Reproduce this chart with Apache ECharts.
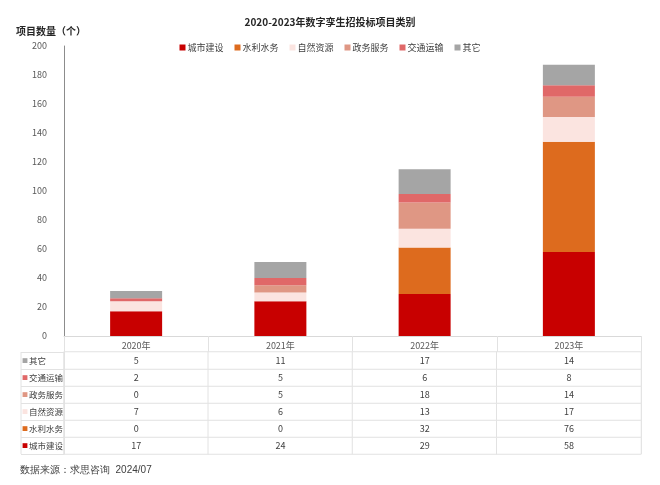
<!DOCTYPE html>
<html><head><meta charset="utf-8">
<script src="https://cdn.jsdelivr.net/npm/echarts@6/dist/echarts.min.js"></script>
<style>html,body{margin:0;padding:0;background:#fff}#c{width:660px;height:485px}</style>
</head><body><div id="c"></div>
<script>
var years = ['2020年','2021年','2022年','2023年'];
var seriesNames = ['城市建设','水利水务','自然资源','政务服务','交通运输','其它'];
var chengshi = [17,24,29,58];
var shuili = [0,0,32,76];
var ziran = [7,6,13,17];
var zhengwu = [0,5,18,14];
var jiaotong = [2,5,6,8];
var qita = [5,11,17,14];
var yTicks = [0,20,40,60,80,100,120,140,160,180,200];

var values = [chengshi, shuili, ziran, zhengwu, jiaotong, qita];
var colors = ['#c80000','#dd6b1e','#fbe4e0','#df9784','#e06868','#a5a5a5'];
var font = '"Microsoft YaHei","Noto Sans CJK SC",sans-serif';

var L = 64, R = 660-641, gTop = 46, axisY = 336, tblTop = 352, tblBot = 454;

var heatData = [];
values.forEach(function(arr, si){ arr.forEach(function(v, xi){ heatData.push([xi, si, v]); }); });

var rich = {};
seriesNames.forEach(function(n,i){ rich['m'+i] = {color: colors[i], fontSize: 6, padding:[0,1,0,0]}; });
rich.t = {color:'#404040', fontSize: 8.5, fontFamily: font};

var series = seriesNames.map(function(n,i){
  return {name:n, type:'bar', stack:'s', xAxisIndex:0, yAxisIndex:0, barWidth:52,
    itemStyle:{color:colors[i]}, data: values[i]};
});
series.push({type:'heatmap', xAxisIndex:1, yAxisIndex:1, data: heatData, z:1,
  itemStyle:{borderColor:'#e2e2e2', borderWidth:1},
  label:{show:true, color:'#404040', fontSize:9, fontFamily:font, formatter:function(p){return p.value[2];}},
  emphasis:{disabled:true}});

var option = {
  animation:false,
  backgroundColor:'#fff',
  textStyle:{fontFamily:font},
  title:[
    {text:'2020-2023年数字孪生招投标项目类别', left:'center', top:12, textStyle:{fontSize:10, fontWeight:'bold', color:'#262626', fontFamily:font}},
    {text:'项目数量（个）', left:11, top:21, textStyle:{fontSize:10, fontWeight:'bold', color:'#262626', fontFamily:font}}
  ],
  legend:{data:seriesNames, top:38, left:'center', itemWidth:6, itemHeight:6, itemGap:11,
    icon:'rect', textStyle:{fontSize:9, color:'#404040', fontFamily:font, padding:[0,0,0,-3]}},
  visualMap:{show:false, seriesIndex:6, min:0, max:100, inRange:{color:['#ffffff','#ffffff']}},
  grid:[
    {left:L, right:R, top:gTop, bottom:485-axisY},
    {left:L, right:R, top:tblTop, bottom:485-tblBot}
  ],
  xAxis:[
    {type:'category', gridIndex:0, data:years,
      axisLine:{lineStyle:{color:'#d9d9d9'}},
      axisTick:{show:true, length:tblBot-axisY, lineStyle:{color:'#e2e2e2'}},
      axisLabel:{color:'#595959', fontSize:9, margin:5}},
    {type:'category', gridIndex:1, data:years, axisLine:{show:false}, axisTick:{show:false}, axisLabel:{show:false}}
  ],
  yAxis:[
    {type:'value', gridIndex:0, min:yTicks[0], max:yTicks[yTicks.length-1], interval:20,
      axisLine:{show:true, lineStyle:{color:'#8c8c8c'}}, axisTick:{show:false}, splitLine:{show:false},
      axisLabel:{color:'#595959', fontSize:9, margin:17}},
    {type:'category', gridIndex:1, data:seriesNames, z:5,
      axisLine:{show:true, lineStyle:{color:'#e2e2e2'}},
      axisTick:{show:true, length:L-21, lineStyle:{color:'#e2e2e2'}},
      axisLabel:{align:'left', margin:L-21-1, rich:rich,
        formatter:function(v, i){ return '{m'+i+'|■}{t|'+v+'}'; }}}
  ],
  graphic:[
    {type:'line', shape:{x1:21, y1:tblTop, x2:21, y2:tblBot}, style:{stroke:'#e2e2e2', lineWidth:1}},
    {type:'text', left:20, top:465, style:{text:'数据来源：求思咨询  2024/07', fontSize:10, fill:'#404040', font:'10px '+font}}
  ],
  series: series
};
echarts.init(document.getElementById('c')).setOption(option);
</script></body></html>
